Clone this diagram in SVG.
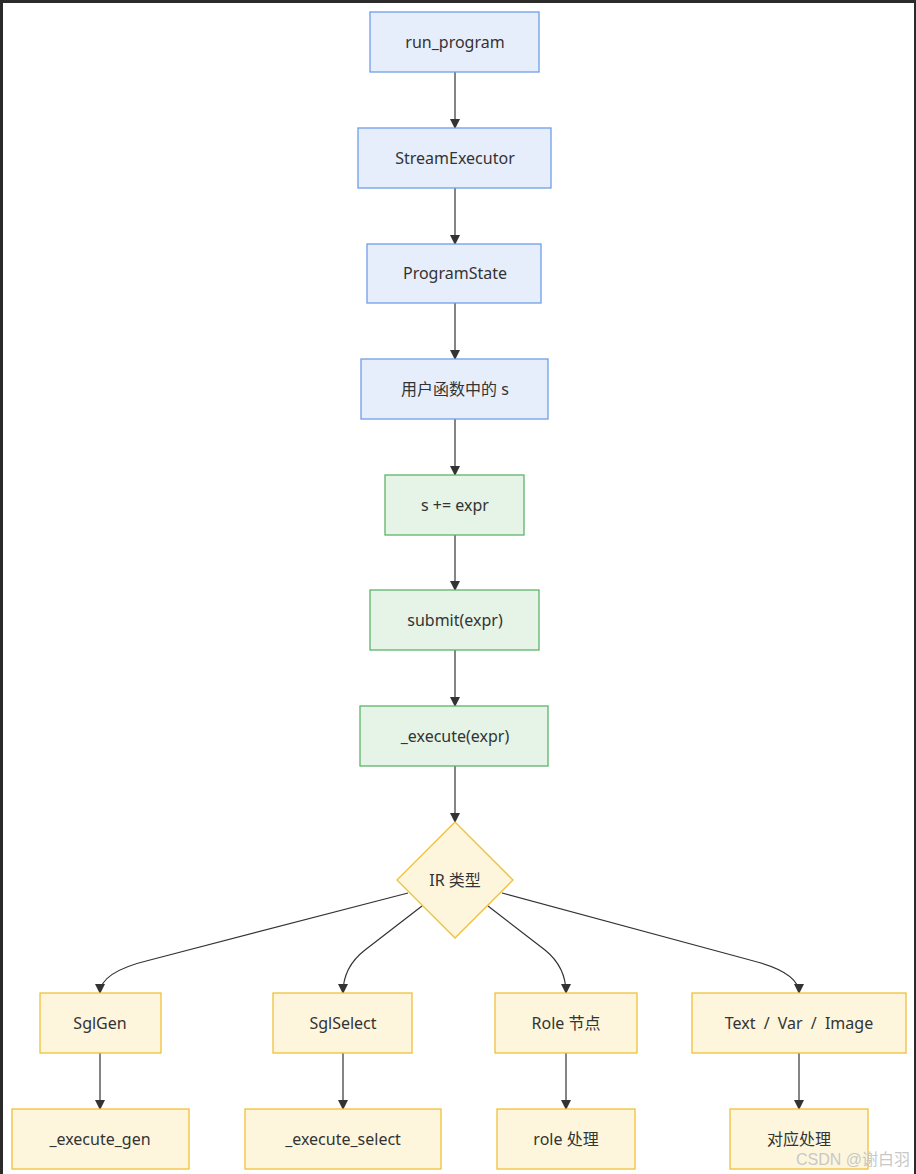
<svg xmlns="http://www.w3.org/2000/svg" width="916" height="1174" viewBox="0 0 916 1174">
<defs>
<style>
text{font-family:"Noto Sans","Noto Sans CJK SC",sans-serif;font-size:16px;fill:#333;text-anchor:middle;dominant-baseline:central}
.b{fill:#e7eefb;stroke:#6e9ee6;stroke-width:1.3}
.g{fill:#e5f4e7;stroke:#5cb46a;stroke-width:1.3}
.y{fill:#fdf6dd;stroke:#f0c03a;stroke-width:1.3}
.e{fill:none;stroke:#333;stroke-width:1.2;marker-end:url(#arr)}
</style>
<marker id="arr" viewBox="0 0 10 10" refX="9" refY="5" markerWidth="10" markerHeight="10" markerUnits="userSpaceOnUse" orient="auto">
<path d="M0,0 L10,5 L0,10 z" fill="#333"/>
</marker>
</defs>
<rect x="0" y="0" width="916" height="1174" fill="#fff"/>
<rect x="0" y="0" width="916" height="3" fill="#2b2b2b"/>
<rect x="0" y="0" width="3" height="1174" fill="#2b2b2b"/>
<rect x="914" y="0" width="2" height="1174" fill="#2b2b2b"/>
<g id="connectors">
<path class="e" d="M455,72 L455,128"/>
<path class="e" d="M455,188 L455,244"/>
<path class="e" d="M455,303 L455,359"/>
<path class="e" d="M455,419 L455,475"/>
<path class="e" d="M455,535 L455,590"/>
<path class="e" d="M455,650 L455,706"/>
<path class="e" d="M455,766 L455,822"/>
<path class="e" d="M408,893 L150,960 Q100,972 100,993"/>
<path class="e" d="M422,906 L365,950 Q343,967 343,993"/>
<path class="e" d="M488,906 L545,950 Q566,967 566,993"/>
<path class="e" d="M502,893 L750,960 Q799,972 799,993"/>
<path class="e" d="M100,1053 L100,1109"/>
<path class="e" d="M343,1053 L343,1109"/>
<path class="e" d="M566,1053 L566,1109"/>
<path class="e" d="M799,1053 L799,1109"/>
</g>
<g id="run_program"><rect class="b" x="370" y="12" width="169" height="60"/><text x="455" y="42">run_program</text></g>
<g id="StreamExecutor"><rect class="b" x="358" y="128" width="193" height="60"/><text x="455" y="158">StreamExecutor</text></g>
<g id="ProgramState"><rect class="b" x="367" y="244" width="174" height="59"/><text x="455" y="273">ProgramState</text></g>
<g id="user_s"><rect class="b" x="361" y="359" width="187" height="60"/><text x="455" y="389">用户函数中的 s</text></g>
<g id="s_add"><rect class="g" x="385" y="475" width="139" height="60"/><text x="455" y="505">s += expr</text></g>
<g id="submit"><rect class="g" x="370" y="590" width="169" height="60"/><text x="455" y="620">submit(expr)</text></g>
<g id="execute"><rect class="g" x="360" y="706" width="188" height="60"/><text x="455" y="736">_execute(expr)</text></g>
<g id="ir_type"><polygon class="y" points="455,822 513,880 455,938 397,880"/><text x="455" y="880">IR 类型</text></g>
<g id="SglGen"><rect class="y" x="40" y="993" width="121" height="60"/><text x="100" y="1023">SglGen</text></g>
<g id="SglSelect"><rect class="y" x="273" y="993" width="139" height="60"/><text x="343" y="1023">SglSelect</text></g>
<g id="Role"><rect class="y" x="495" y="993" width="142" height="60"/><text x="566" y="1023">Role 节点</text></g>
<g id="TextVarImage"><rect class="y" x="692" y="993" width="214" height="60"/><text x="799" y="1023" style="word-spacing:4px">Text / Var / Image</text></g>
<g id="execute_gen"><rect class="y" x="12" y="1109" width="177" height="60"/><text x="100" y="1139">_execute_gen</text></g>
<g id="execute_select"><rect class="y" x="245" y="1109" width="196" height="60"/><text x="343" y="1139">_execute_select</text></g>
<g id="role_proc"><rect class="y" x="497" y="1109" width="138" height="60"/><text x="566" y="1139">role 处理</text></g>
<g id="corr_proc"><rect class="y" x="730" y="1109" width="138" height="60"/><text x="799" y="1139">对应处理</text></g>
<text x="853" y="1159" style="font-size:16px;fill:#c8c8c8;font-family:'Liberation Sans','Noto Sans CJK SC',sans-serif">CSDN @谢白羽</text>
</svg>
